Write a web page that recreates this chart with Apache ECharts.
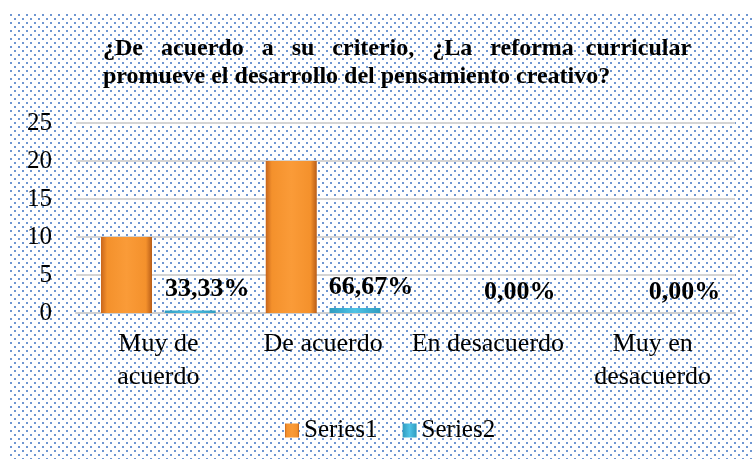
<!DOCTYPE html>
<html>
<head>
<meta charset="utf-8">
<script src="https://cdn.jsdelivr.net/npm/echarts@6/dist/echarts.min.js"></script>
<style>
  html, body { margin: 0; padding: 0; background: #ffffff; }
  #wrap { position: relative; width: 752px; height: 459px; overflow: hidden; }
  #dots {
    position: absolute; left: 10px; top: 14px; right: 0; bottom: 0;
    background-image: url("data:image/svg+xml;utf8,<svg xmlns='http://www.w3.org/2000/svg' width='8' height='8'><rect x='0' y='0' width='2' height='2' fill='%234a7cc6'/><rect x='4' y='4' width='2' height='2' fill='%234a7cc6'/></svg>");
    background-size: 8px 8px;
    opacity: 0.8;
  }
  #chart { position: absolute; left: 0; top: 0; width: 752px; height: 459px; }
</style>
</head>
<body>
<div id="wrap">
  <div id="dots"></div>
  <div id="chart"></div>
</div>
<script>
const categories = ['Muy de\nacuerdo', 'De acuerdo', 'En desacuerdo', 'Muy en\ndesacuerdo'];
const series1Values = [10, 20, 0, 0];
const series2Values = [0.3333, 0.6667, 0, 0];
const yTicks = [0, 5, 10, 15, 20, 25];
const titleWords = ['¿De', 'acuerdo', 'a', 'su', 'criterio,', '¿La', 'reforma', 'curricular'];
const titleLine2 = 'promueve el desarrollo del pensamiento creativo?';
const seriesNames = ['Series1', 'Series2'];

// justified first title line: widened gaps made of non-breaking spaces
const gapSizes = [3, 3, 3, 3, 3, 3, 2];
let titleLine1 = titleWords[0];
for (let i = 1; i < titleWords.length; i++) {
  titleLine1 += '\u00A0'.repeat(gapSizes[i - 1]) + titleWords[i];
}

const serif = '"Liberation Serif", "Times New Roman", serif';
const chart = echarts.init(document.getElementById('chart'), null, { renderer: 'canvas' });

const orange = new echarts.graphic.LinearGradient(0, 0, 1, 0, [
  { offset: 0, color: '#c8661c' },
  { offset: 0.12, color: '#f4912c' },
  { offset: 0.5, color: '#fa9b38' },
  { offset: 0.88, color: '#f4912c' },
  { offset: 1, color: '#b85d18' }
]);
const cyan = new echarts.graphic.LinearGradient(0, 0, 1, 0, [
  { offset: 0, color: '#2f9cc0' },
  { offset: 0.5, color: '#4fc3e6' },
  { offset: 1, color: '#2f9cc0' }
]);

const labelOffsets = [[17, 0], [16, 0], [0, 0], [0, 0]];

chart.setOption({
  backgroundColor: 'transparent',
  animation: false,
  title: {
    text: titleLine1 + '\n' + titleLine2,
    left: 98,
    top: 30,
    textStyle: {
      fontFamily: serif,
      fontWeight: 'bold',
      fontSize: 24,
      lineHeight: 28,
      color: '#000'
    }
  },
  legend: {
    left: 280,
    top: 413,
    itemWidth: 14,
    itemHeight: 14,
    itemGap: 25,
    icon: 'rect',
    textStyle: { fontFamily: serif, fontSize: 25, color: '#000' },
    data: seriesNames
  },
  grid: { left: 76, right: 17, top: 123, bottom: 146 },
  xAxis: {
    type: 'category',
    data: categories,
    axisLine: { lineStyle: { color: '#cfcfcf', width: 2 } },
    axisTick: { show: false },
    axisLabel: {
      fontFamily: serif, fontSize: 26, color: '#000',
      lineHeight: 33, margin: 15, interval: 0
    }
  },
  yAxis: {
    type: 'value',
    min: 0, max: 25, interval: 5,
    axisLine: { show: false },
    axisTick: { show: false },
    axisLabel: {
      fontFamily: serif, fontSize: 25, color: '#000', margin: 24,
      formatter: v => (yTicks.indexOf(v) >= 0 ? String(v) : '')
    },
    splitLine: { lineStyle: { color: '#d4d4d4', width: 2 } }
  },
  series: [
    {
      name: seriesNames[0],
      type: 'bar',
      data: series1Values,
      barWidth: 51,
      barGap: '25%',
      itemStyle: { color: orange }
    },
    {
      name: seriesNames[1],
      type: 'bar',
      data: series2Values.map((v, i) => ({
        value: v,
        label: { offset: labelOffsets[i] }
      })),
      barWidth: 51,
      itemStyle: { color: cyan },
      label: {
        show: true,
        position: 'top',
        distance: 8,
        fontFamily: serif,
        fontWeight: 'bold',
        fontSize: 26,
        color: '#000',
        formatter: p => (p.value * 100).toFixed(2).replace('.', ',') + '%'
      }
    }
  ]
});
</script>
</body>
</html>
